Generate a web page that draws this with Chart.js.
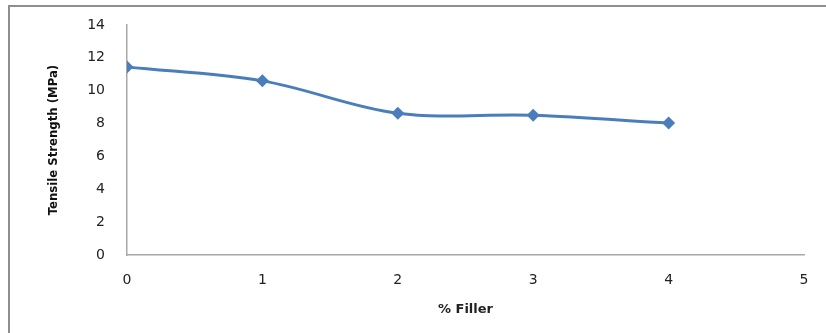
<!DOCTYPE html>
<html>
<head>
<meta charset="utf-8">
<script src="https://cdn.jsdelivr.net/npm/chart.js@4"></script>
<style>
  html, body { margin: 0; padding: 0; background: #fff; overflow: hidden; }
  #wrap { position: relative; width: 826px; height: 333px; overflow: hidden; }
  #frame {
    position: absolute; left: 8px; top: 5px; width: 1000px; height: 500px;
    border-left: 2px solid #8e8e8e; border-top: 2px solid #8e8e8e;
    border-right: none; border-bottom: none;
  }
  #myChart { position: absolute; left: 0; top: 0; }
</style>
</head>
<body>
<div id="wrap">
  <div id="frame"></div>
  <canvas id="myChart" width="826" height="333"></canvas>
</div>
<script>
// Filler content (%) and measured tensile strength (MPa)
const fillerPercent = [0, 1, 2, 3, 4];
const tensileStrength = [11.45, 10.6, 8.63, 8.5, 8.03];

const xTicks = [0, 1, 2, 3, 4, 5];
const yTicks = [0, 2, 4, 6, 8, 10, 12, 14];

const lineColor = "#4a7ebb";
const axisColor = "#a8a8a8";
const textColor = "#222";

window.addEventListener("load", function () {
  const ctx = document.getElementById("myChart");

  const points = fillerPercent.map((x, i) => ({ x: x, y: tensileStrength[i] }));

  new Chart(ctx, {
    type: "scatter",
    data: {
      datasets: [
        {
          label: "Tensile Strength",
          data: points,
          showLine: true,
          borderColor: lineColor,
          borderWidth: 3,
          tension: 0.35,
          pointStyle: "rectRot",
          pointRadius: 6.5,
          pointBackgroundColor: lineColor,
          pointBorderColor: lineColor,
          pointBorderWidth: 0,
        },
      ],
    },
    options: {
      responsive: false,
      animation: false,
      layout: { padding: { top: 25, right: 22, left: 0, bottom: 0 } },
      plugins: {
        legend: { display: false },
        tooltip: { enabled: false },
      },
      scales: {
        x: {
          type: "linear",
          min: xTicks[0],
          max: xTicks[xTicks.length - 1],
          afterBuildTicks: (scale) => {
            scale.ticks = xTicks.map((v) => ({ value: v }));
          },
          afterFit: (scale) => {
            scale.height = 78;
            scale.paddingLeft = 0;
            scale.paddingRight = 0;
          },
          grid: { display: false, drawTicks: false },
          border: { display: true, color: axisColor, width: 1.5 },
          ticks: {
            padding: 17,
            color: textColor,
            font: { family: "'DejaVu Sans'", size: 14 },
          },
          title: {
            display: true,
            text: "% Filler",
            color: textColor,
            padding: { top: 0, bottom: 16 },
            font: { family: "'DejaVu Sans'", size: 13, weight: "bold" },
          },
        },
        y: {
          min: yTicks[0],
          max: yTicks[yTicks.length - 1],
          afterBuildTicks: (scale) => {
            scale.ticks = yTicks.map((v) => ({ value: v }));
          },
          afterFit: (scale) => {
            scale.width = 127;
            scale.paddingTop = 0;
            scale.paddingBottom = 0;
          },
          grid: { display: false, drawTicks: false },
          border: { display: true, color: axisColor, width: 1.5 },
          ticks: {
            padding: 22,
            color: textColor,
            font: { family: "'DejaVu Sans'", size: 14 },
          },
          title: {
            display: true,
            text: "Tensile Strength (MPa)",
            color: "#111",
            padding: { top: 46, bottom: 0 },
            font: { family: "'DejaVu Sans Condensed'", size: 13, weight: "bold" },
          },
        },
      },
    },
  });
});
</script>
</body>
</html>
